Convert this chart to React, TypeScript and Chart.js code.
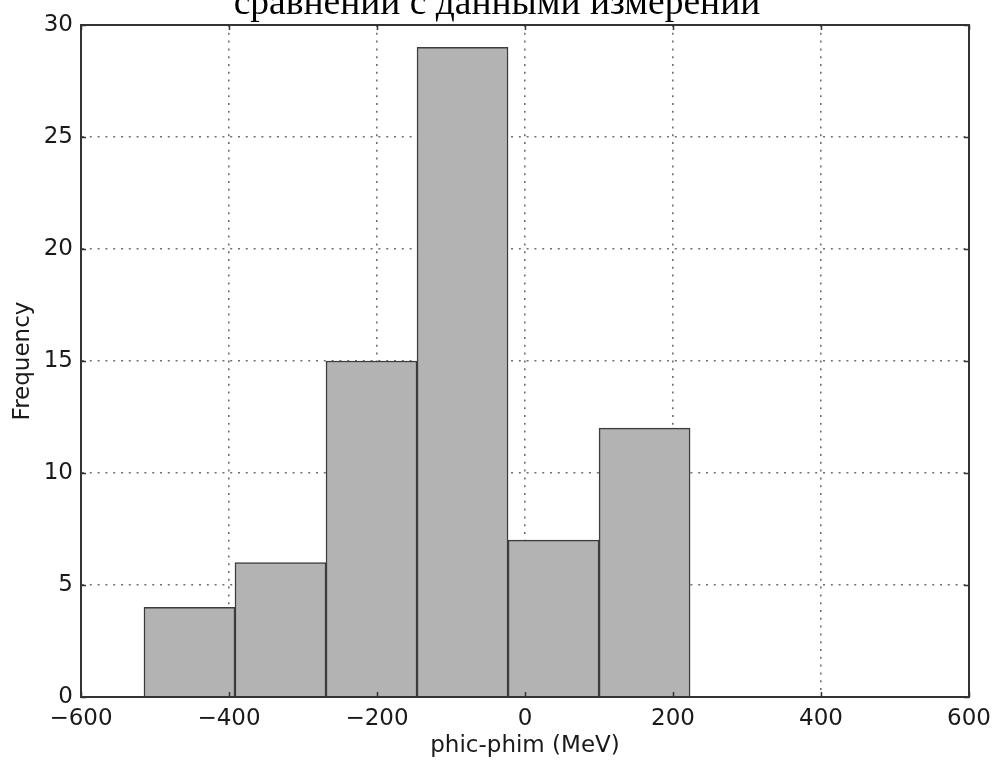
import React, { useEffect, useRef } from "react";
import { Chart, registerables } from "chart.js";

Chart.register(...registerables);

// Histogram of the difference between computed and measured values
const binEdges = [-514.9, -391.9, -268.9, -145.9, -22.9, 100.1, 223.1];
const counts = [4, 6, 15, 29, 7, 12];

const xTickMin = -600;
const xTickMax = 600;
const xTickStep = 200;
const yTickMin = 0;
const yTickMax = 30;
const yTickStep = 5;

const headingText = "сравнении с данными измерений";
const xLabel = "phic-phim (MeV)";
const yLabel = "Frequency";

const W = 994;
const H = 760;
const AREA = { left: 81, top: 25, right: 969, bottom: 697 };

const fmt = (v: number) => (v < 0 ? "\u2212" + Math.abs(v) : String(v));

// Inward tick marks on all four sides plus a closed frame, like a classic plot box
const frameTicks = {
  id: "frameTicks",
  afterDraw(chart: any) {
    const { ctx, chartArea } = chart;
    const xs = chart.scales.x;
    const ys = chart.scales.y;
    const len = 5;
    ctx.save();
    ctx.strokeStyle = "#333";
    ctx.lineWidth = 1.5;
    ctx.beginPath();
    for (let v = xTickMin; v <= xTickMax; v += xTickStep) {
      const px = Math.round(xs.getPixelForValue(v)) + 0.5;
      ctx.moveTo(px, chartArea.bottom);
      ctx.lineTo(px, chartArea.bottom - len);
      ctx.moveTo(px, chartArea.top);
      ctx.lineTo(px, chartArea.top + len);
    }
    for (let v = yTickMin; v <= yTickMax; v += yTickStep) {
      const py = Math.round(ys.getPixelForValue(v)) + 0.5;
      ctx.moveTo(chartArea.left, py);
      ctx.lineTo(chartArea.left + len, py);
      ctx.moveTo(chartArea.right, py);
      ctx.lineTo(chartArea.right - len, py);
    }
    ctx.stroke();
    ctx.lineWidth = 2;
    ctx.strokeStyle = "#333";
    ctx.strokeRect(
      chartArea.left,
      chartArea.top,
      chartArea.right - chartArea.left,
      chartArea.bottom - chartArea.top
    );
    ctx.restore();
  },
};

export default function App() {
  const canvasRef = useRef<HTMLCanvasElement | null>(null);

  useEffect(() => {
    const canvas = canvasRef.current;
    if (!canvas) return;
    const centers = counts.map((_, i) => (binEdges[i] + binEdges[i + 1]) / 2);
    const tickFont = { family: "'DejaVu Sans', sans-serif", size: 23 };
    const gridStyle = {
      color: "#707070",
      lineWidth: 1.6,
      drawTicks: false,
      offset: false,
    };
    const chart = new Chart(canvas, {
      type: "bar",
      data: {
        datasets: [
          {
            data: centers.map((c, i) => ({ x: c, y: counts[i] })),
            backgroundColor: "#b3b3b3",
            borderColor: "#3c3c3c",
            borderWidth: 1.5,
            barPercentage: 1,
            categoryPercentage: 1,
          },
        ],
      },
      options: {
        animation: false,
        responsive: false,
        maintainAspectRatio: false,
        devicePixelRatio: 1,
        layout: {
          padding: {
            left: 0,
            top: AREA.top,
            right: W - AREA.right,
            bottom: 0,
          },
        },
        plugins: {
          legend: { display: false },
          tooltip: { enabled: false },
          title: { display: false },
        },
        scales: {
          x: {
            type: "linear",
            min: xTickMin,
            max: xTickMax,
            offset: false,
            z: 1,
            grid: gridStyle,
            border: { display: true, color: "#333", width: 2, dash: [2, 5.8] },
            ticks: {
              stepSize: xTickStep,
              color: "#1a1a1a",
              font: tickFont,
              padding: 8,
              maxRotation: 0,
              autoSkip: false,
              callback: (v: any) => fmt(Number(v)),
            },
            title: {
              display: true,
              text: xLabel,
              color: "#1a1a1a",
              font: tickFont,
              padding: { top: 0, bottom: 0 },
            },
            afterFit: (s: any) => {
              s.height = H - AREA.bottom;
              s.paddingLeft = 0;
              s.paddingRight = 0;
            },
          },
          y: {
            type: "linear",
            min: yTickMin,
            max: yTickMax,
            z: 1,
            grid: gridStyle,
            border: { display: true, color: "#333", width: 2, dash: [2, 5.8] },
            ticks: {
              stepSize: yTickStep,
              color: "#1a1a1a",
              font: tickFont,
              padding: 8,
              callback: (v: any) => fmt(Number(v)),
            },
            title: {
              display: true,
              text: yLabel,
              color: "#1a1a1a",
              font: tickFont,
              padding: { top: 9, bottom: 0 },
            },
            afterFit: (s: any) => {
              s.width = AREA.left;
              s.paddingTop = 0;
              s.paddingBottom = 0;
            },
          },
        },
      },
      plugins: [frameTicks],
    });
    return () => chart.destroy();
  }, []);

  return (
    <div
      style={{
        position: "absolute",
        left: 0,
        top: 0,
        width: W,
        height: H,
        overflow: "hidden",
        background: "#fff",
      }}
    >
      <canvas
        ref={canvasRef}
        width={W}
        height={H}
        style={{ position: "absolute", left: 0, top: 0, width: W, height: H }}
      />
      <div
        style={{
          position: "absolute",
          left: 0,
          top: -17.4,
          width: W,
          textAlign: "center",
          fontFamily: "'Liberation Serif', serif",
          fontSize: 37.5,
          lineHeight: "37.5px",
          color: "#000",
          whiteSpace: "nowrap",
        }}
      >
        {headingText}
      </div>
    </div>
  );
}
